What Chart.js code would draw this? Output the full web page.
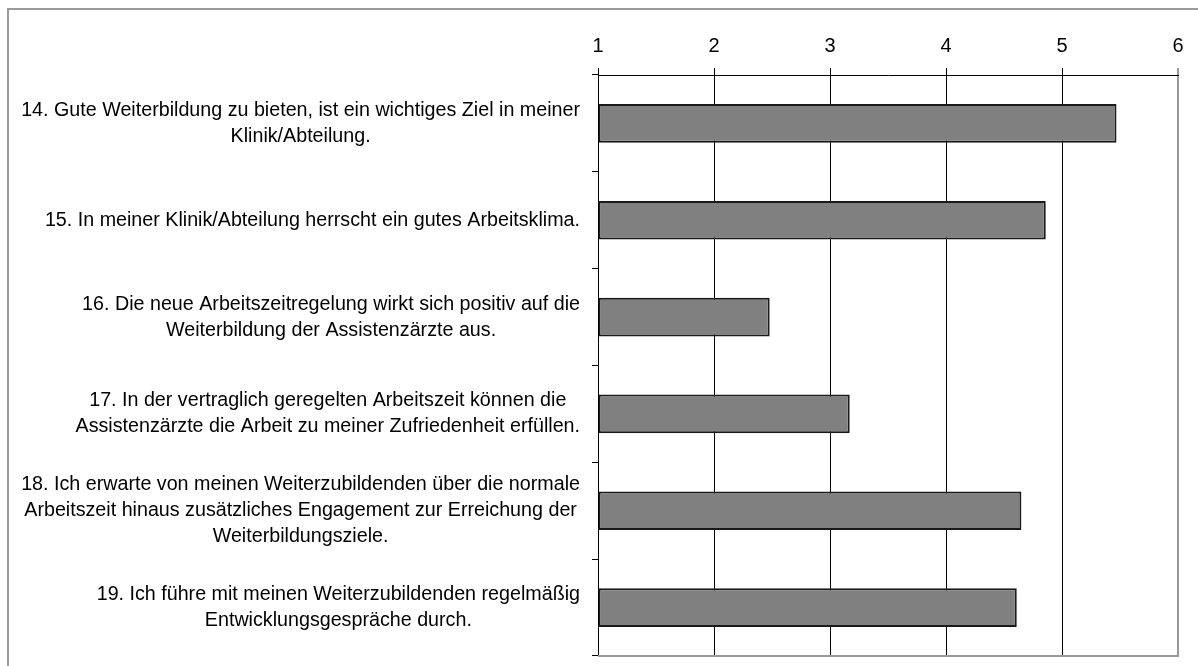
<!DOCTYPE html>
<html>
<head>
<meta charset="utf-8">
<script src="https://cdn.jsdelivr.net/npm/chart.js@4/dist/chart.umd.min.js"></script>
<style>
    html, body { margin: 0; padding: 0; background: #fff; overflow: hidden; }
    #wrap { position: relative; width: 1198px; height: 666px; }
    #frame {
        position: absolute; left: 7px; top: 8px; width: 1300px; height: 800px;
        border-left: 2px solid #9a9a9a; border-top: 2px solid #9a9a9a;
    }
    canvas { position: absolute; left: 0; top: 0; }
</style>
</head>
<body>
<div id="wrap">
    <div id="frame"></div>
    <canvas id="chart" width="1198" height="666"></canvas>
</div>
<script>
// Aussagen (mehrzeilig, wie im Original umbrochen)
const statements = [
    ['14. Gute Weiterbildung zu bieten, ist ein wichtiges Ziel in meiner', 'Klinik/Abteilung.'],
    ['15. In meiner Klinik/Abteilung herrscht ein gutes Arbeitsklima.'],
    ['16. Die neue Arbeitszeitregelung wirkt sich positiv auf die', 'Weiterbildung der Assistenzärzte aus.'],
    ['17. In der vertraglich geregelten Arbeitszeit können die', 'Assistenzärzte die Arbeit zu meiner Zufriedenheit erfüllen.'],
    ['18. Ich erwarte von meinen Weiterzubildenden über die normale', 'Arbeitszeit hinaus zusätzliches Engagement zur Erreichung der', 'Weiterbildungsziele.'],
    ['19. Ich führe mit meinen Weiterzubildenden regelmäßig', 'Entwicklungsgespräche durch.']
];

// Mittelwerte (Skala 1-6)
const means = [5.47, 4.86, 2.48, 3.17, 4.65, 4.61];

const scaleMin = 1;
const scaleMax = 6;

const FONT = '"Liberation Sans", Arial, sans-serif';

// Beschriftungen links: Block rechtsbündig, Zeilen zentriert (wie Excel)
const labelPlugin = {
    id: 'blockLabels',
    afterDraw(chart) {
        const ctx = chart.ctx;
        const yScale = chart.scales.y;
        const rightEdge = 580;
        const lineH = 26;
        ctx.save();
        ctx.font = '19.7px ' + FONT;
        ctx.fillStyle = '#000';
        ctx.textAlign = 'center';
        ctx.textBaseline = 'middle';
        chart.data.labels.forEach((lines, i) => {
            const widths = lines.map(l => ctx.measureText(l).width);
            const blockW = Math.max(...widths);
            const cx = rightEdge - blockW / 2;
            const cy = yScale.getPixelForValue(i);
            const top = cy - (lines.length - 1) * lineH / 2;
            lines.forEach((l, k) => ctx.fillText(l, cx, top + k * lineH));
        });
        ctx.restore();
    }
};

// Rahmen unten (grau)
const framePlugin = {
    id: 'plotFrame',
    beforeDatasetsDraw(chart) {
        const { ctx, chartArea } = chart;
        ctx.save();
        ctx.strokeStyle = '#999';
        ctx.lineWidth = 2;
        ctx.beginPath();
        ctx.moveTo(chartArea.left, chartArea.bottom);
        ctx.lineTo(chartArea.right + 1, chartArea.bottom);
        ctx.stroke();
        ctx.restore();
    }
};

new Chart(document.getElementById('chart'), {
    type: 'bar',
    data: {
        labels: statements,
        datasets: [{
            data: means,
            base: scaleMin,
            backgroundColor: '#808080',
            borderColor: '#1a1a1a',
            borderWidth: 2,
            borderSkipped: false,
            barPercentage: 0.4,
            categoryPercentage: 1
        }]
    },
    options: {
        indexAxis: 'y',
        responsive: false,
        animation: false,
        layout: { padding: { top: 0, left: 0, right: 20, bottom: 10 } },
        plugins: {
            legend: { display: false },
            tooltip: { enabled: false }
        },
        scales: {
            x: {
                position: 'top',
                min: scaleMin,
                max: scaleMax,
                afterFit(scale) { scale.height = 75; },
                ticks: {
                    stepSize: 1,
                    color: '#000',
                    padding: 10,
                    font: { family: FONT, size: 20 }
                },
                grid: {
                    color: c => c.tick && c.tick.value === scaleMax ? '#999' : '#000',
                    lineWidth: c => c.tick && c.tick.value === scaleMax ? 2 : 1,
                    tickLength: 7
                },
                border: { color: '#000', width: 1 }
            },
            y: {
                afterFit(scale) { scale.width = 598; },
                ticks: { display: false },
                grid: {
                    drawOnChartArea: false,
                    color: '#000',
                    tickLength: 6,
                    offset: true
                },
                border: { color: '#000', width: 1 }
            }
        }
    },
    plugins: [labelPlugin, framePlugin]
});
</script>
</body>
</html>
